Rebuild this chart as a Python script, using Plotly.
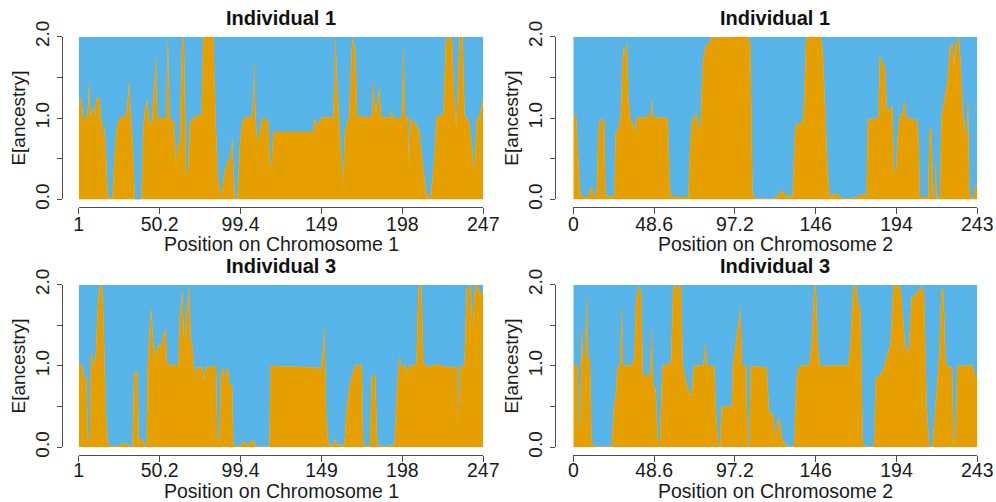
import plotly.graph_objects as go

# Expected ancestry (E[ancestry], 0-2 copies) along each chromosome, in Mb
chr1_ind1_pos = [1, 1.6, 2.6, 3.6, 5.7, 6.7, 7.3, 8.1, 9.7, 10.7, 11.8, 13.8, 14.4, 15.2, 16.2, 16.8, 17.4,
                 18.5, 19.9, 21.5, 22.7, 23.9, 25.6, 29.0, 30.4, 31.6, 32.7, 33.7, 35.1, 39.2, 40.2, 41.2,
                 42.6, 43.6, 45.3, 46.3, 47.9, 48.7, 54.0, 55.2, 56.2, 59.0, 60.1, 61.3, 62.5, 63.9, 64.9,
                 66.2, 67.4, 68.6, 71.6, 75.7, 76.7, 82.8, 84.4, 85.8, 87.9, 89.3, 90.9, 92.9, 94.4, 95.0,
                 96.0, 97.6, 99.0, 100.1, 101.1, 106.1, 107.2, 107.8, 108.4, 109.6, 111.2, 112.8, 115.3,
                 116.5, 117.3, 118.3, 119.3, 120.4, 143.7, 144.3, 145.1, 145.7, 148.8, 155.9, 157.1, 158.1,
                 159.9, 161.6, 163.0, 165.4, 167.4, 169.1, 170.3, 179.2, 180.2, 181.6, 183.7, 184.9, 190.4,
                 191.2, 191.8, 197.5, 198.5, 199.5, 201.1, 201.9, 202.8, 205.6, 208.0, 210.1, 212.1, 213.7,
                 215.3, 217.0, 218.6, 222.8, 224.3, 226.3, 227.9, 229.3, 230.6, 232.6, 234.4, 235.6, 238.1,
                 239.7, 241.7, 243.1, 245.2, 246.2, 247]
chr1_ind1_anc = [1.18, 1.18, 1.26, 1.0, 1.0, 1.12, 1.43, 1.0, 1.14, 1.0, 1.24, 1.24, 1.0, 0.93, 0.73, 0.91, 0.61,
                 0.07, 0.0, 0.03, 0.52, 0.85, 1.0, 1.02, 1.1, 1.45, 1.02, 0.73, 0.0, 0.0, 0.85, 1.1,
                 1.22, 1.0, 0.89, 1.26, 1.73, 1.0, 1.0, 1.94, 1.0, 0.95, 0.4, 0.67, 0.69, 1.98, 1.96,
                 0.32, 0.36, 0.95, 1.02, 1.04, 2.0, 2.0, 0.85, 0.24, 0.03, 0.28, 0.44, 0.52, 0.75, 0.36,
                 0.01, 0.01, 0.65, 0.89, 1.0, 1.01, 1.26, 1.67, 1.02, 0.69, 0.85, 1.0, 1.0,
                 0.89, 0.4, 0.44, 0.83, 0.83, 0.83, 0.98, 0.98, 0.89, 1.01, 1.01, 1.98, 1.43,
                 0.85, 0.18, 0.85, 1.02, 2.0, 1.84, 1.02, 1.01, 1.43, 1.06, 1.36, 1.01, 1.01,
                 1.1, 1.0, 1.0, 1.84, 1.0, 1.02, 0.38, 1.0, 0.93, 0.85, 0.44, 0.11, 0.0,
                 0.07, 0.44, 1.02, 1.04, 1.96, 1.98, 2.0, 1.26, 0.85, 2.0, 2.0, 1.02, 0.98,
                 0.73, 0.32, 0.98, 1.06, 1.2, 1.2]

chr2_ind1_pos = [0, 1.6, 2.6, 4.0, 5.0, 9.4, 10.2, 11.8, 12.7, 14.1, 15.1, 16.1, 18.5, 19.3, 24.5, 25.5,
                 27.1, 28.5, 29.5, 30.3, 31.1, 32.3, 33.1, 34.1, 35.7, 36.7, 38.1, 41.1, 44.1, 46.7, 47.3,
                 47.9, 56.8, 58.0, 59.2, 69.2, 70.4, 71.6, 74.0, 75.2, 76.2, 76.8, 78.0, 79.6, 81.6, 83.2,
                 104.9, 106.5, 107.7, 108.9, 121.3, 123.9, 125.3, 127.3, 129.3, 131.9, 133.5, 134.7,
                 137.9, 138.9, 140.0, 141.4, 148.8, 150.0, 151.4, 152.8, 154.0, 155.4, 157.4, 159.4,
                 162.4, 171.4, 174.4, 176.4, 177.2, 183.5, 184.5, 185.9, 187.5, 188.5, 190.9, 191.9,
                 192.9, 194.1, 195.5, 196.9, 197.7, 199.3, 200.5, 206.5, 207.7, 208.5, 213.5, 214.3,
                 215.5, 216.3, 217.3, 218.0, 218.5, 220.5, 221.5, 223.5, 225.0, 226.6, 228.2, 229.0,
                 230.2, 231.8, 233.0, 234.2, 235.6, 236.6, 237.4, 238.2, 239.6, 241.2, 241.8, 243]
chr2_ind1_anc = [1.02, 1.04, 0.65, 0.11, 0.03, 0.03, 0.16, 0.11, 0.03, 0.05, 0.85, 0.98, 0.98, 0.05, 0.03, 0.81,
                 0.87, 1.02, 1.59, 1.88, 1.8, 1.92, 1.26, 1.02, 0.93, 0.81, 1.0, 1.01, 1.01, 1.06, 1.22,
                 1.01, 1.0, 0.16, 0.03, 0.03, 0.73, 0.98, 1.06, 0.89, 0.89, 1.06, 1.71, 1.88, 1.92, 1.99,
                 2.0, 1.92, 0.11, 0.01, 0.01, 0.07, 0.11, 0.07, 0.03, 0.05, 0.89, 0.93,
                 0.95, 1.18, 1.96, 2.0, 2.0, 1.84, 1.06, 0.44, 0.07, 0.03, 0.08, 0.05,
                 0.01, 0.03, 0.07, 0.05, 0.98, 1.0, 1.77, 1.69, 1.63, 1.12, 1.1, 1.16,
                 0.36, 0.36, 0.89, 1.06, 1.02, 1.22, 1.0, 0.98, 0.77, 0.03, 0.03, 0.89,
                 0.85, 0.03, 0.03, 0.44, 0.03, 0.01, 1.02, 1.26, 1.43, 1.88, 1.92, 1.63,
                 1.92, 1.99, 1.67, 1.1, 0.85, 0.81, 1.2, 0.11, 0.01, 0.03, 0.16, 0.16]

chr1_ind3_pos = [1, 3.2, 4.0, 5.7, 6.5, 7.7, 8.5, 9.3, 10.1, 11.4, 12.2, 13.0, 14.2, 15.4, 16.4, 17.4, 18.7,
                 23.9, 28.0, 33.7, 34.7, 36.7, 37.5, 38.5, 39.8, 41.2, 42.2, 43.0, 44.2, 45.0, 46.3, 47.5,
                 48.3, 49.1, 50.3, 51.5, 52.8, 53.8, 54.6, 60.5, 61.5, 62.5, 63.9, 65.1, 66.6, 68.0, 69.0,
                 70.2, 71.2, 72.6, 76.3, 77.1, 78.3, 84.4, 85.2, 86.5, 87.5, 88.5, 89.3, 90.5, 91.7, 92.5,
                 94.2, 95.0, 99.0, 101.1, 103.1, 107.2, 108.4, 116.9, 117.7, 120.4, 146.3, 148.4, 149.8,
                 150.4, 151.4, 152.8, 155.9, 156.9, 158.1, 162.6, 163.8, 165.4, 167.4, 169.1, 173.1, 173.9,
                 175.2, 178.0, 179.2, 181.2, 182.5, 187.3, 193.0, 194.6, 196.0, 197.1, 199.5, 201.1, 202.6,
                 206.4, 207.6, 209.3, 210.5, 213.7, 217.8, 221.8, 227.9, 231.0, 232.0, 232.8, 235.6, 237.0,
                 239.1, 240.5, 242.1, 243.7, 244.8, 246.2, 247]
chr1_ind3_anc = [1.02, 1.01, 0.87, 0.85, 0.11, 0.07, 1.16, 1.1, 0.98, 1.14, 1.55, 1.88, 2.0, 1.96, 1.26, 0.44, 0.03,
                 0.01, 0.05, 0.01, 0.93, 0.91, 0.03, 0.11, 0.09, 0.01, 0.03, 0.98, 1.47, 1.71, 1.26, 1.1,
                 1.18, 1.26, 1.22, 1.28, 1.43, 1.45, 1.02, 1.01, 0.98, 1.59, 1.92, 1.26, 1.67, 1.98, 1.34,
                 1.22, 0.89, 0.98, 0.98, 0.81, 0.98, 1.0, 0.16, 0.05, 0.93, 0.98, 0.85, 0.95, 0.98, 0.77,
                 0.77, 0.03, 0.01, 0.07, 0.03, 0.09, 0.01, 0.01, 1.0, 1.0, 0.98, 0.95, 1.26,
                 1.47, 0.44, 0.03, 0.03, 0.11, 0.03, 0.03, 0.44, 0.73, 0.89, 1.01, 1.01, 0.07,
                 0.01, 0.01, 0.87, 0.89, 0.03, 0.01, 0.03, 0.73, 1.12, 0.98, 1.02, 0.93, 1.01,
                 1.01, 1.96, 2.0, 1.04, 0.98, 1.02, 1.0, 0.98, 1.0, 0.24, 0.98, 1.02, 1.96,
                 2.0, 1.43, 2.0, 1.98, 1.88, 1.92, 1.92]

chr2_ind3_pos = [0, 1.0, 2.6, 3.4, 4.2, 5.0, 5.8, 7.0, 8.0, 9.0, 10.0, 11.0, 13.1, 23.1, 24.5, 25.5, 26.5,
                 28.1, 29.1, 29.9, 35.1, 36.7, 37.9, 39.5, 40.7, 41.9, 43.1, 46.1, 47.1, 48.1, 49.5, 50.7,
                 52.1, 53.6, 58.8, 60.2, 62.8, 64.8, 65.8, 67.6, 68.8, 70.0, 71.2, 72.4, 78.2, 79.6, 80.4,
                 84.8, 86.0, 87.2, 88.4, 89.2, 95.3, 96.0, 97.7, 99.3, 100.5, 101.5, 103.9, 104.9, 105.9,
                 106.7, 116.3, 117.7, 120.3, 121.3, 122.3, 123.1, 124.3, 125.5, 127.1, 128.7, 132.7,
                 134.3, 135.9, 142.0, 143.4, 145.0, 145.8, 147.0, 148.4, 165.4, 166.8, 168.4, 170.0, 171.2,
                 172.8, 174.0, 175.2, 180.8, 182.0, 184.5, 186.9, 188.9, 190.9, 192.5, 194.5, 196.9, 198.1,
                 199.5, 200.9, 202.1, 203.5, 205.5, 207.5, 209.5, 210.9, 212.5, 214.1, 216.1, 217.3, 218.9,
                 220.2, 221.4, 222.6, 223.8, 225.6, 227.8, 228.8, 229.8, 231.0, 240.2, 241.4, 243]
chr2_ind3_anc = [1.06, 1.0, 1.0, 0.24, 0.28, 1.43, 1.1, 1.14, 1.84, 1.1, 1.06, 0.05, 0.01, 0.01, 0.52, 0.61, 0.98,
                 1.0, 1.71, 1.0, 1.01, 1.1, 1.84, 1.98, 1.92, 0.87, 0.89, 0.89, 1.43, 0.77, 0.73, 0.11,
                 0.03, 1.0, 1.04, 2.0, 1.96, 2.0, 1.0, 0.85, 0.73, 0.69, 0.61, 1.0, 1.01, 1.28, 1.0,
                 1.0, 0.36, 0.03, 0.03, 0.5, 0.5, 1.01, 1.26, 1.47, 1.71, 1.0, 1.0, 0.03, 0.03,
                 1.0, 0.98, 0.44, 0.4, 0.2, 0.16, 0.36, 0.32, 0.11, 0.05, 0.01, 0.01,
                 0.85, 1.0, 1.01, 1.26, 2.0, 1.98, 1.26, 1.0, 1.01, 1.26, 1.98, 2.0, 1.8,
                 1.67, 0.11, 0.01, 0.01, 0.85, 0.89, 0.98, 1.14, 1.26, 1.98, 2.0, 1.96, 1.59,
                 1.26, 1.14, 1.26, 1.84, 1.88, 1.92, 1.98, 1.92, 0.52, 0.01, 0.01, 0.36, 0.85,
                 1.14, 1.96, 1.92, 1.06, 0.98, 0.98, 0.03, 0.11, 1.0, 1.01, 0.89, 0.89]

# Axis ticks (R-style pretty breaks over the chromosome span)
chr1_tickvals = [1, 50.2, 99.4, 148.6, 197.8, 247]
chr1_ticktext = ["1", "50.2", "99.4", "149", "198", "247"]
chr2_tickvals = [0, 48.6, 97.2, 145.8, 194.4, 243]
chr2_ticktext = ["0", "48.6", "97.2", "146", "194", "243"]
anc_tickvals = [0, 0.5, 1.0, 1.5, 2.0]
anc_ticktext = ["0.0", "", "1.0", "", "2.0"]

panel_titles = ["Individual 1", "Individual 1", "Individual 3", "Individual 3"]
x_titles = ["Position on Chromosome 1", "Position on Chromosome 2",
            "Position on Chromosome 1", "Position on Chromosome 2"]

ORANGE = "#E69F00"
BLUE = "#56B4E9"
AXIS = "#4d4d4d"
FONT = "Liberation Sans, Arial, sans-serif"

panels = [
    (chr1_ind1_pos, chr1_ind1_anc, chr1_tickvals, chr1_ticktext, [1, 247]),
    (chr2_ind1_pos, chr2_ind1_anc, chr2_tickvals, chr2_ticktext, [0, 243]),
    (chr1_ind3_pos, chr1_ind3_anc, chr1_tickvals, chr1_ticktext, [1, 247]),
    (chr2_ind3_pos, chr2_ind3_anc, chr2_tickvals, chr2_ticktext, [0, 243]),
]

# Layout geometry (paper fractions)
x_domains = [[0.0791, 0.4852], [0.5756, 0.9812]]
y_domains = [[0.6026, 0.9269], [0.1090, 0.4329]]
x_axis_pos = [0.5876, 0.0940]        # x-axis line sits below the plot region
x_label_pos = [0.5816, 0.0900]       # axis carrying the x tick labels
y_axis_pos = [0.0619, 0.5572]        # y-axis line sits left of the plot region
x_title_y = [0.514, 0.021]           # centre line of the x-axis labels

fig = go.Figure()
layout = dict(
    width=996, height=502,
    margin=dict(l=0, r=0, t=0, b=0),
    paper_bgcolor="white", plot_bgcolor="white",
    showlegend=False,
    font=dict(family=FONT, size=19, color="#1a1a1a"),
    annotations=[],
)

for i, (pos, anc, tv, tt, xr) in enumerate(panels):
    row, col = divmod(i, 2)
    suffix = "" if i == 0 else str(i + 1)
    xa, ya = "x" + suffix, "y" + suffix
    xl = "x" + str(i + 5)
    other = [2 - a for a in anc]  # remaining copies from the second ancestry
    fig.add_trace(go.Scatter(x=pos, y=anc, xaxis=xa, yaxis=ya, mode="lines",
                             stackgroup="s" + str(i), line=dict(width=0.6, color=ORANGE),
                             fillcolor=ORANGE, hoverinfo="skip"))
    fig.add_trace(go.Scatter(x=pos, y=other, xaxis=xa, yaxis=ya, mode="lines",
                             stackgroup="s" + str(i), line=dict(width=0, color=BLUE),
                             fillcolor=BLUE, hoverinfo="skip"))
    # empty trace so the tick-label axis gets rendered
    fig.add_trace(go.Scatter(x=[xr[0]], y=[0], xaxis=xl, yaxis=ya, mode="none",
                             hoverinfo="skip", showlegend=False))

    # axis line + tick marks
    layout["xaxis" + suffix] = dict(
        domain=x_domains[col], range=xr, anchor="free", position=x_axis_pos[row],
        tickmode="array", tickvals=tv, showticklabels=False,
        showline=True, linecolor=AXIS, linewidth=1, ticks="outside", ticklen=6,
        tickcolor=AXIS, showgrid=False, zeroline=False, automargin=False,
    )
    # overlay axis carrying only the tick labels
    layout["xaxis" + str(i + 5)] = dict(
        overlaying=xa, range=xr, anchor="free", position=x_label_pos[row],
        tickmode="array", tickvals=tv, ticktext=tt, ticks="", showline=False,
        showgrid=False, zeroline=False, automargin=False, tickfont=dict(size=19.5),
    )
    layout["yaxis" + suffix] = dict(
        domain=y_domains[row], range=[0, 2], anchor="free", position=y_axis_pos[col],
        tickmode="array", tickvals=anc_tickvals, ticktext=anc_ticktext, tickangle=-90,
        showline=True, linecolor=AXIS, linewidth=1, ticks="outside", ticklen=5,
        tickcolor=AXIS, showgrid=False, zeroline=False, automargin=False,
        tickfont=dict(size=19),
        title=dict(text="E[ancestry]", standoff=0, font=dict(size=19)),
    )
    layout["annotations"].append(dict(
        text="<b>" + panel_titles[i] + "</b>", xref="x" + suffix + " domain", yref="paper",
        x=0.5, y=y_domains[row][1], yshift=19, xanchor="center", yanchor="middle",
        showarrow=False, font=dict(size=20, family=FONT, color="#111"),
    ))
    layout["annotations"].append(dict(
        text=x_titles[i], xref="x" + suffix + " domain", yref="paper",
        x=0.5, y=x_title_y[row], xanchor="center", yanchor="middle",
        showarrow=False, font=dict(size=19.5, family=FONT, color="#1a1a1a"),
    ))

fig.update_layout(**layout)
fig.write_html("out.html")
